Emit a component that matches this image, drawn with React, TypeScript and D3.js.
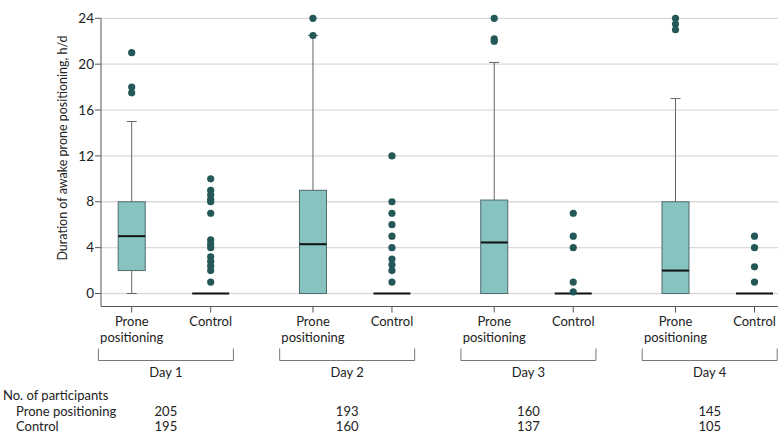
import React from 'react';
import * as d3 from 'd3';

// chart data
const days = ['Day 1', 'Day 2', 'Day 3', 'Day 4'];
const groups = ['Prone', 'Control'];
const yTicks = [0, 4, 8, 12, 16, 20, 24];

// [whiskerLow, q1, median, q3, whiskerHigh]
const proneStats = [
  [0, 2, 5, 8, 15],
  [0, 0, 4.3, 9, 22.5],
  [0, 0, 4.45, 8.15, 20.15],
  [0, 0, 2, 8, 17],
];
const controlStats = [
  [0, 0, 0, 0, 0],
  [0, 0, 0, 0, 0],
  [0, 0, 0, 0, 0],
  [0, 0, 0, 0, 0],
];
const proneOutliers = [
  [21, 18, 17.5],
  [24, 22.5],
  [24, 22.2, 22],
  [24, 23.5, 23],
];
const controlOutliers = [
  [10, 9, 8.6, 8.2, 8, 7, 4.67, 4.3, 4, 3.2, 2.8, 2.4, 2, 1],
  [12, 8, 7, 6, 5, 4, 3, 2.5, 2, 1],
  [7, 5, 4, 1, 0.15],
  [5, 4, 2.33, 1],
];
const proneCounts = [205, 193, 160, 145];
const controlCounts = [195, 160, 137, 105];

const FONT = 'Lato, "Noto Sans", sans-serif';
const BOX_FILL = '#86c3c1';
const BOX_STROKE = '#4f6b6b';
const DOT = '#245858';
const AXIS = '#555';
const GRID = '#dadada';

export default function App() {
  const left = 101;
  const right = 778;
  const axisY = 306.5;

  const y = d3.scaleLinear().domain([0, 24]).range([293.5, 18.3]);
  const xDay = d3.scalePoint<string>().domain(days).range([171.2, 715]);
  const xGroup = d3.scalePoint<string>().domain(groups).range([-39.5, 39.5]);

  const cx = (di: number, g: string) => (xDay(days[di]) as number) + (xGroup(g) as number);

  const renderBox = (stats: number[], di: number, g: string, boxW: number, medW: number) => {
    const [lo, q1, med, q3, hi] = stats;
    const c = cx(di, g);
    const capW = 10;
    return (
      <g key={g + di}>
        {hi > q3 && <line x1={c} x2={c} y1={y(q3)} y2={y(hi)} stroke="#666" strokeWidth={1} />}
        {hi > q3 && <line x1={c - capW / 2} x2={c + capW / 2} y1={y(hi)} y2={y(hi)} stroke="#666" strokeWidth={1} />}
        {lo < q1 && <line x1={c} x2={c} y1={y(q1)} y2={y(lo)} stroke="#666" strokeWidth={1} />}
        {lo < q1 && <line x1={c - capW / 2} x2={c + capW / 2} y1={y(lo)} y2={y(lo)} stroke="#666" strokeWidth={1} />}
        {q3 > q1 && (
          <rect x={c - boxW / 2} y={y(q3)} width={boxW} height={y(q1) - y(q3)} fill={BOX_FILL} stroke={BOX_STROKE} strokeWidth={1} />
        )}
        <line x1={c - medW / 2} x2={c + medW / 2} y1={y(med)} y2={y(med)} stroke="#111" strokeWidth={2} />
      </g>
    );
  };

  const renderDots = (vals: number[], di: number, g: string) =>
    vals.map((v, i) => <circle key={g + di + '-' + i} cx={cx(di, g)} cy={y(v)} r={3.6} fill={DOT} />);

  return (
    <svg width={780} height={445} style={{ position: 'absolute', left: 0, top: 0, background: '#fff' }} fontFamily={FONT}>
      {/* gridlines */}
      {yTicks.map((t) => (
        <line key={'g' + t} x1={left} x2={right} y1={y(t)} y2={y(t)} stroke={GRID} strokeWidth={1.3} />
      ))}
      {/* y axis */}
      <line x1={left} x2={left} y1={y(24)} y2={axisY} stroke={AXIS} strokeWidth={1} />
      {yTicks.map((t) => (
        <g key={'t' + t}>
          <line x1={left - 6} x2={left} y1={y(t)} y2={y(t)} stroke={AXIS} strokeWidth={1} />
          <text x={left - 7} y={y(t)} dy="0.35em" textAnchor="end" fontSize={13.5} fill="#222">
            {t}
          </text>
        </g>
      ))}
      <text transform={`translate(67,148) rotate(-90)`} textAnchor="middle" fontSize={12.5} fill="#222">
        Duration of awake prone positioning, h/d
      </text>
      {/* x axis */}
      <line x1={left} x2={right} y1={axisY} y2={axisY} stroke={AXIS} strokeWidth={1} />
      {days.map((d, di) =>
        groups.map((g) => (
          <line key={'xt' + d + g} x1={cx(di, g)} x2={cx(di, g)} y1={axisY} y2={axisY + 6} stroke={AXIS} strokeWidth={1} />
        ))
      )}
      {/* boxes */}
      {proneStats.map((s, di) => renderBox(s, di, 'Prone', 27, 27))}
      {controlStats.map((s, di) => renderBox(s, di, 'Control', 37, 37))}
      {proneOutliers.map((o, di) => renderDots(o, di, 'Prone'))}
      {controlOutliers.map((o, di) => renderDots(o, di, 'Control'))}
      {/* category labels, brackets, day labels */}
      {days.map((d, di) => {
        const bc = (xDay(d) as number) - 5.3;
        const hw = 67.5;
        return (
          <g key={'lab' + d}>
            <text x={cx(di, 'Prone')} y={326} textAnchor="middle" fontSize={13} fill="#222">Prone</text>
            <text x={cx(di, 'Prone')} y={342} textAnchor="middle" fontSize={13} fill="#222">positioning</text>
            <text x={cx(di, 'Control')} y={326} textAnchor="middle" fontSize={13} fill="#222">Control</text>
            <path
              d={`M${bc - hw},348.5V360.5H${bc + hw}V348.5`}
              fill="none"
              stroke="#777"
              strokeWidth={1}
            />
            <text x={bc} y={377} textAnchor="middle" fontSize={13} fill="#222">{d}</text>
            <text x={bc} y={415.5} textAnchor="middle" fontSize={13} fill="#222">{proneCounts[di]}</text>
            <text x={bc} y={430.5} textAnchor="middle" fontSize={13} fill="#222">{controlCounts[di]}</text>
          </g>
        );
      })}
      {/* table row labels */}
      <text x={3} y={400} fontSize={13} fill="#222">No. of participants</text>
      <text x={16} y={415.5} fontSize={13} fill="#222">Prone positioning</text>
      <text x={16} y={430.5} fontSize={13} fill="#222">Control</text>
    </svg>
  );
}
